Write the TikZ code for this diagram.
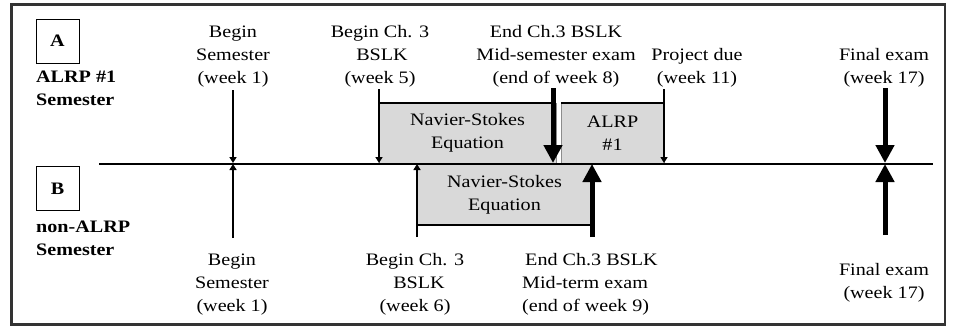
\documentclass[tikz,border=0pt]{standalone}
\usepackage{fontspec}
\setmainfont{Liberation Serif}[FakeStretch=1.15]
\usetikzlibrary{arrows.meta}
\definecolor{boxgray}{HTML}{D9D9D9}
\definecolor{framegray}{HTML}{333333}
\newcommand{\tstrut}{\rule{0pt}{16.1pt}}
\begin{document}
\begin{tikzpicture}[x=1pt,y=-1pt,
  txt/.style={font=\fontsize{17.5}{23}\selectfont, inner sep=0pt},
  lbl/.style={txt, align=center, anchor=north},
  lbll/.style={txt, align=left, anchor=north west},
  side/.style={txt, font=\fontsize{17.5}{23}\selectfont\bfseries, align=left, anchor=north west},
  tag/.style={draw, line width=1pt, minimum width=43pt, minimum height=44pt, inner sep=0pt, font=\fontsize{17.5}{23}\selectfont\bfseries},
  gbox/.style={txt, fill=boxgray, draw=black!45, line width=0.5pt, align=center},
  thinarr/.style={line width=1.6pt, -{Triangle[length=6pt,width=7pt]}},
  thickarr/.style={line width=5pt, -{Triangle[length=18pt,width=18pt]}},
  edge/.style={line width=2pt}]
\useasboundingbox (0,0) rectangle (953,327);
\draw[framegray, line width=2.5pt] (11.25,4.25) rectangle (945,324.5);

% left labels
\node[tag] (A) at (57.5,41) {A};
\node[side] (Alab) at (36,65.9) {\tstrut ALRP \#1\\Semester};
\node[tag] (B) at (57.5,188.5) {B};
\node[side] (Blab) at (36,215.9) {\tstrut non-ALRP\\Semester};

% gray boxes
\node[gbox, minimum width=177pt, minimum height=60pt] (ns1) at (467.5,133) {Navier-Stokes\\Equation};
\draw[edge] (ns1.north west) -- (ns1.north east);
\node[gbox, minimum width=103pt, minimum height=60pt] (alrp) at (612.5,133) {ALRP\\\#1};
\draw[edge] (alrp.north west) -- (alrp.north east);
\node[gbox, minimum width=175pt, minimum height=61pt] (ns2) at (504.5,194.5) {Navier-Stokes\\Equation};
\draw[edge] (ns2.south west) -- (ns2.south east);

% timeline
\coordinate (L) at (99,163.5);
\coordinate (R) at (933,163.5);
\draw[edge] (L) -- (R);

% top labels
\node[lbl] (t1) at (233,21.4) {\tstrut Begin\\Semester\\(week 1)};
\node[lbl] (t2) at (380,21.4) {\tstrut Begin Ch. 3\\\hspace*{4pt}BSLK\\(week 5)};
\node[lbl] (t3) at (556,21.4) {\tstrut End Ch.3 BSLK\\Mid-semester exam\\(end of week 8)};
\node[lbl] (t4) at (697,44.4) {\tstrut Project due\\(week 11)};
\node[lbl] (t5) at (884,44.4) {\tstrut Final exam\\(week 17)};

% bottom labels
\node[lbl] (b1) at (232,249.4) {\tstrut Begin\\Semester\\(week 1)};
\node[lbl] (b2) at (415,249.4) {\tstrut Begin Ch. 3\\\hspace*{8pt}BSLK\\(week 6)};
\node[lbll] (b3) at (522,249.4) {\tstrut\hspace*{3pt}End Ch.3 BSLK\\Mid-term exam\\(end of week 9)};
\node[lbl] (b5) at (884,259.4) {\tstrut Final exam\\(week 17)};

% arrow coordinates
\coordinate (s1) at (233,90);  \coordinate (e1) at (233,163);
\coordinate (s2) at (379,89);  \coordinate (e2) at (379,163);
\coordinate (s3) at (553,88);  \coordinate (e3) at (553,163);
\coordinate (s4) at (664,89);  \coordinate (e4) at (664,163);
\coordinate (s5) at (885,88);  \coordinate (e5) at (885,163);
\coordinate (u1) at (233,238); \coordinate (f1) at (233,164);
\coordinate (u2) at (417,237); \coordinate (f2) at (417,164);
\coordinate (u3) at (592,237); \coordinate (f3) at (592,164);
\coordinate (u5) at (885,235); \coordinate (f5) at (885,164);

\draw[thinarr] (s1) -- (e1);
\draw[thinarr] (s2) -- (e2);
\draw[thickarr] (s3) -- (e3);
\draw[thinarr] (s4) -- (e4);
\draw[thickarr] (s5) -- (e5);
\draw[thinarr] (u1) -- (f1);
\draw[thinarr] (u2) -- (f2);
\draw[thickarr] (u3) -- (f3);
\draw[thickarr] (u5) -- (f5);
\end{tikzpicture}
\end{document}
